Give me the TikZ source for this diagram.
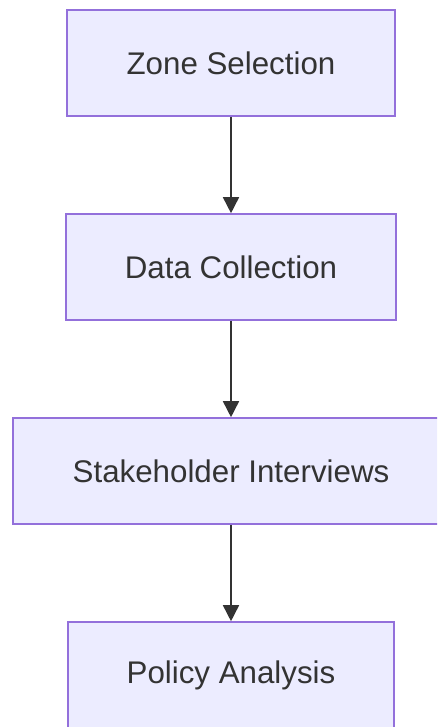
\documentclass[tikz,border=0pt]{standalone}
\usepackage{fontspec}
\setmainfont{Liberation Sans}
\usetikzlibrary{arrows.meta}
\definecolor{boxfill}{HTML}{ECECFF}
\definecolor{boxdraw}{HTML}{9370DB}
\definecolor{ink}{HTML}{333333}
\begin{document}
\begin{tikzpicture}[x=1pt,y=-1pt,
  box/.style={draw=boxdraw,fill=boxfill,line width=1.6pt,rectangle,inner sep=0pt,
    minimum height=106pt,text=ink,font=\fontsize{31.3}{37}\selectfont},
  conn/.style={draw=ink,line width=1.6pt,-{Triangle[length=16pt,width=16pt]}}]
\useasboundingbox (0,0) rectangle (437,727);
\clip (0,0) rectangle (437,727);
\fill[white] (0,0) rectangle (437,727);
\node[box,minimum width=328pt] (a) at (231,63) {Zone Selection};
\node[box,minimum width=330pt] (b) at (231,267) {Data Collection};
\node[box,minimum width=436pt] (c) at (231,471) {Stakeholder Interviews};
\node[box,minimum width=326pt] (d) at (231,675) {Policy Analysis};
\draw[conn] (a) -- (b);
\draw[conn] (b) -- (c);
\draw[conn] (c) -- (d);
\end{tikzpicture}
\end{document}
